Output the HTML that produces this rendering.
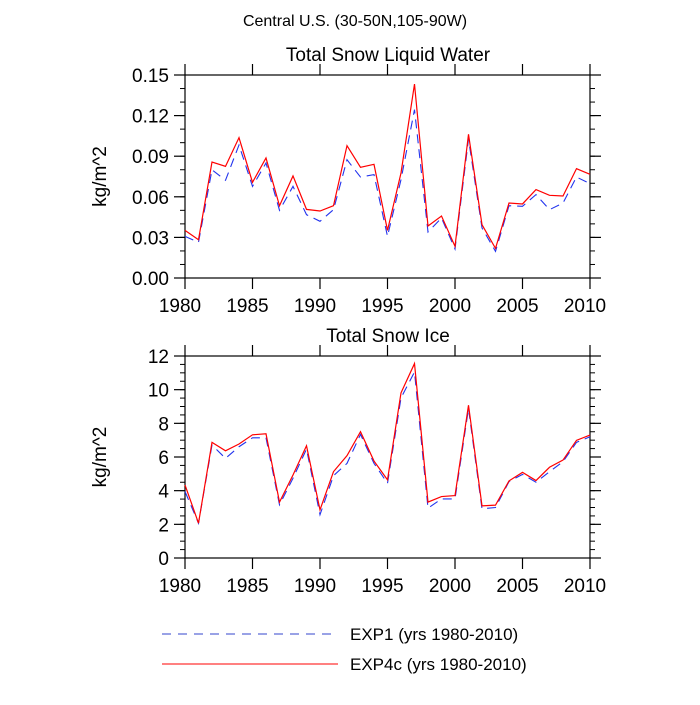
<!DOCTYPE html>
<html><head><meta charset="utf-8"><style>
html,body{margin:0;padding:0;background:#fff;}
svg text{font-family:"Liberation Sans",sans-serif;fill:#000;}
</style></head><body>
<svg id="c" width="700" height="700" xmlns="http://www.w3.org/2000/svg">
<text x="355" y="26" font-size="16" text-anchor="middle">Central U.S. (30-50N,105-90W)</text>
<g id="g"></g>
<line x1="162" y1="634" x2="338" y2="634" stroke="#3344cc" stroke-width="1" stroke-dasharray="9,7"/>
<text x="350" y="640" font-size="17">EXP1 (yrs 1980-2010)</text>
<line x1="162" y1="664" x2="338" y2="664" stroke="red" stroke-width="1"/>
<text x="350" y="670" font-size="17">EXP4c (yrs 1980-2010)</text>
</svg>
<script>
const years=[];for(let y=1980;y<=2010;y++)years.push(y);
const xTicks=[1980,1985,1990,1995,2000,2005,2010];
const swExp1=[0.0308,0.0264,0.080,0.0722,0.0983,0.0677,0.085,0.050,0.0677,0.0468,0.0419,0.0505,0.0874,0.0746,0.0764,0.0308,0.0727,0.1244,0.034,0.0443,0.0214,0.1027,0.037,0.0197,0.0534,0.053,0.0616,0.0505,0.0554,0.0746,0.0697];
const swExp4c=[0.0352,0.0283,0.0857,0.0825,0.1037,0.0707,0.0887,0.0534,0.0754,0.0507,0.0495,0.0534,0.0978,0.0818,0.084,0.0352,0.0776,0.1433,0.0384,0.0458,0.0234,0.1062,0.0394,0.0219,0.0554,0.0547,0.0653,0.0611,0.0606,0.0808,0.0766];
const swTicks=["0.00","0.03","0.06","0.09","0.12","0.15"];
const siExp1=[3.95,2.07,6.71,5.92,6.61,7.14,7.14,3.16,4.74,6.47,2.57,4.89,5.62,7.34,5.62,4.44,9.51,11.05,2.96,3.51,3.51,8.88,2.92,3.00,4.54,4.97,4.50,5.13,5.72,6.87,7.20];
const siExp4c=[4.34,2.07,6.87,6.37,6.77,7.32,7.38,3.32,4.93,6.67,2.86,5.13,6.08,7.50,5.76,4.64,9.81,11.55,3.32,3.65,3.71,9.08,3.10,3.14,4.58,5.09,4.60,5.39,5.82,6.99,7.30];
const siTicks=["0","2","4","6","8","10","12"];
const NS="http://www.w3.org/2000/svg";
const g=document.getElementById('g');
function el(t,a,p){const e=document.createElementNS(NS,t);for(const k in a)e.setAttribute(k,a[k]);(p||g).appendChild(e);return e;}
function panel(key,title,top,bot,ymax,minorStep,ticks,s1,s2){
  const L=185,R=590;
  const px=v=>L+(v-1980)/30*(R-L);
  const py=v=>bot-v/ymax*(bot-top);
  const pg=el('g',{});
  
  
  const t=el('text',{x:388,y:top-14,'font-size':19,'text-anchor':'middle'},pg);t.textContent=title;
  
  
  const fr=el('rect',{x:L,y:top,width:R-L,height:bot-top,fill:'none',stroke:'#000','stroke-width':1.2},pg);
  
  
  for(let v=0;v<=ymax+1e-9;v+=minorStep){const y=py(v);
    el('line',{x1:L-5,y1:y,x2:L,y2:y,stroke:'#000'},pg);el('line',{x1:R,y1:y,x2:R+5,y2:y,stroke:'#000'},pg);}
  ticks.forEach(s=>{const v=parseFloat(s),y=py(v);
    el('line',{x1:L-11,y1:y,x2:L,y2:y,stroke:'#000','stroke-width':1.2},pg);el('line',{x1:R,y1:y,x2:R+11,y2:y,stroke:'#000','stroke-width':1.2},pg);
    const tx=el('text',{x:L-16,y:y+7,'font-size':19,'text-anchor':'end'},pg);tx.textContent=s;
    
    });
  xTicks.forEach(yr=>{const x=px(yr);
    el('line',{x1:x,y1:top-11,x2:x,y2:top,stroke:'#000','stroke-width':1.2},pg);el('line',{x1:x,y1:bot,x2:x,y2:bot+11,stroke:'#000','stroke-width':1.2},pg);
    const tx=el('text',{x:x-5,y:bot+34,'font-size':19,'text-anchor':'middle'},pg);tx.textContent=yr;
    
    });
  const yt=el('text',{x:0,y:0,'font-size':19,'text-anchor':'middle',transform:`translate(106,${(top+bot)/2}) rotate(-90)`},pg);yt.textContent='kg/m^2';
  
  
  const l1=el('polyline',{points:s1.map((v,i)=>px(years[i])+','+py(v)).join(' '),fill:'none',stroke:'#2233ee','stroke-width':1.1,'stroke-dasharray':'9,6'},pg);
  
  
  const l2=el('polyline',{points:s2.map((v,i)=>px(years[i])+','+py(v)).join(' '),fill:'none',stroke:'red','stroke-width':1.2},pg);
  
  
}
panel('snow-liquid-water','Total Snow Liquid Water',75,278,0.15,0.01,swTicks,swExp1,swExp4c);
panel('snow-ice','Total Snow Ice',356,558,12,0.5,siTicks,siExp1,siExp4c);
</script>
</body></html>
